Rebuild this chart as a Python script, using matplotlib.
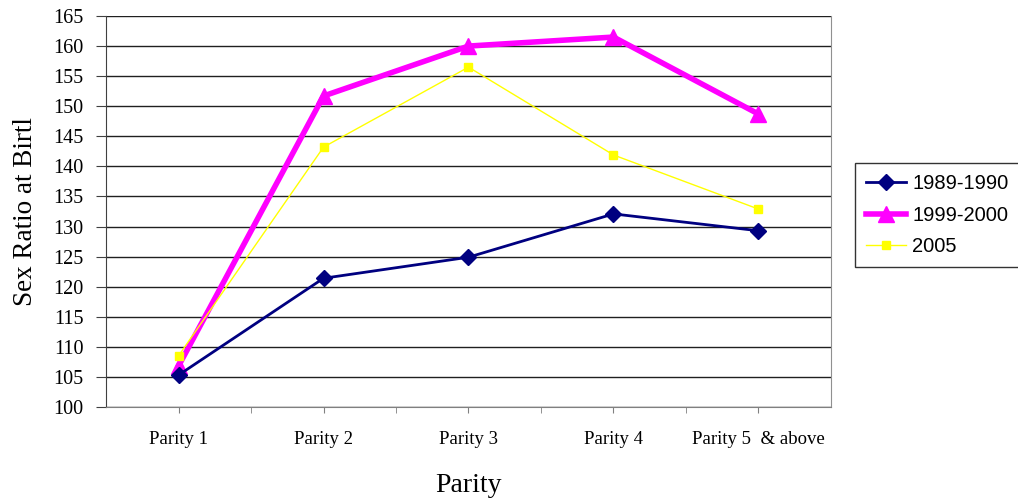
import matplotlib.pyplot as plt

categories = ["Parity 1", "Parity 2", "Parity 3", "Parity 4", "Parity 5  & above"]
s1989 = [105.3, 121.4, 124.9, 132.1, 129.3]
s1999 = [106.8, 151.7, 160.0, 161.5, 148.7]
s2005 = [108.5, 143.2, 156.5, 141.9, 132.9]
yticks = list(range(100, 166, 5))

serif = ["Liberation Serif", "DejaVu Serif"]
sans = ["Liberation Sans", "DejaVu Sans"]

fig = plt.figure(figsize=(10.18, 5.0), dpi=100)
ax = fig.add_axes([106 / 1018, 1 - 407 / 500, (831 - 106) / 1018, (407 - 16) / 500])

x = list(range(len(categories)))
ax.plot(x, s1989, color="#000080", lw=2, marker="D", ms=8, label="1989-1990", zorder=4)
ax.plot(x, s1999, color="#FF00FF", lw=4, marker="^", ms=11, label="1999-2000", zorder=3)
ax.plot(x, s2005, color="#FFFF00", lw=1, marker="s", ms=6, label="2005", zorder=5)

ax.set_xlim(-0.5, 4.5)
ax.set_ylim(100, 165)
ax.set_yticks(yticks)
ax.set_yticklabels([str(v) for v in yticks], family=serif, fontsize=14.5)
ax.set_xticks(x)
ax.set_xticklabels(categories, family=serif, fontsize=13.5)
ax.set_xticks([i - 0.5 for i in range(1, 5)], minor=True)
ax.tick_params(axis="x", which="both", direction="out", length=4, color="#808080", pad=13)
ax.tick_params(axis="y", direction="out", length=7, color="#404040", pad=9)
ax.grid(axis="y", color="#202020", lw=1)
ax.set_axisbelow(True)

ax.spines["top"].set_visible(False)
ax.spines["right"].set_color("#909090")
ax.spines["bottom"].set_color("#808080")
ax.spines["left"].set_color("#404040")

ax.set_ylabel("Sex Ratio at Birtl", family=serif, fontsize=19.5, labelpad=11)
ax.set_xlabel("Parity", family=serif, fontsize=20, labelpad=18)

leg = fig.legend(loc="upper left", bbox_to_anchor=(855 / 1018, 1 - 163 / 500),
                 prop={"family": sans, "size": 14.5}, frameon=True, fancybox=False,
                 handlelength=2.0, handletextpad=0.3, borderpad=0.55, labelspacing=0.62,
                 borderaxespad=0)
leg.get_frame().set_edgecolor("black")
leg.get_frame().set_linewidth(1)

fig.savefig("out.png", dpi=100)
